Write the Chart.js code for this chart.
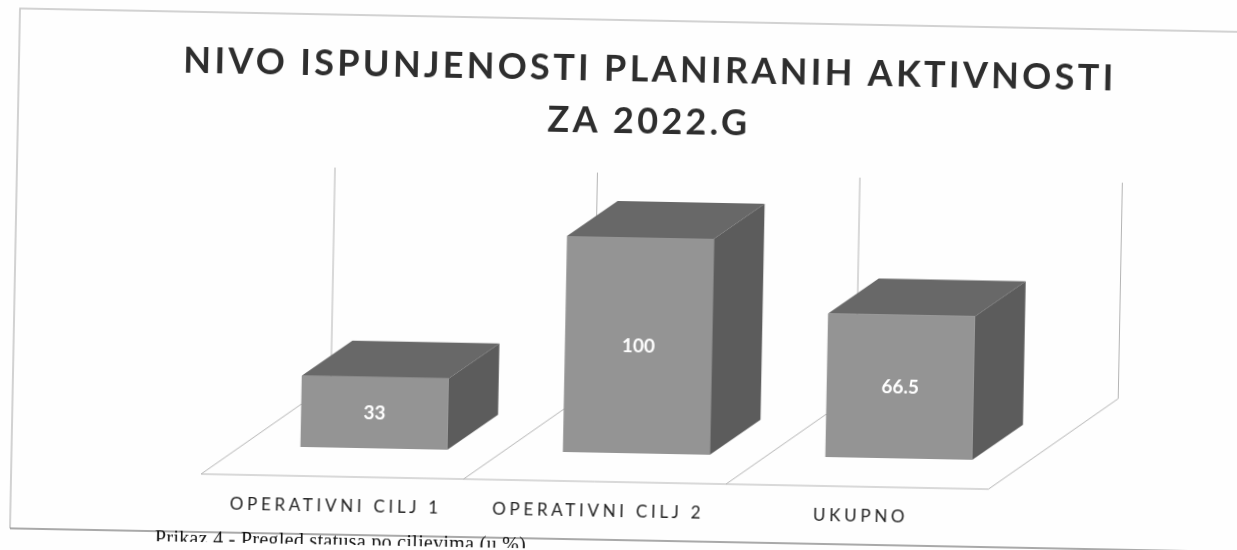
<!DOCTYPE html>
<html><head><meta charset="utf-8">
<style>
html,body{margin:0;padding:0;background:#fefefe;overflow:hidden}
#wrap{position:absolute;left:0;top:0;width:1237px;height:550px;transform:rotate(1.1deg);transform-origin:618px 275px;filter:blur(0.5px)}
canvas{display:block}
</style>
<script src="https://cdn.jsdelivr.net/npm/chart.js@4"></script>
</head><body>
<div id="wrap"><canvas id="c" width="1237" height="550"></canvas></div>
<script>
const categories = ["OPERATIVNI CILJ 1", "OPERATIVNI CILJ 2", "UKUPNO"];
const values = [33, 100, 66.5];
const valueLabels = ["33", "100", "66.5"];
const titleLines = ["NIVO ISPUNJENOSTI PLANIRANIH AKTIVNOSTI", "ZA 2022.G"];
const caption = "Prikaz 4 - Pregled statusa po ciljevima (u %)";

const BAR_D = {dx: 50, dy: -36};
const FLOOR_FRONT = {dx: -41, dy: 29};
const FLOOR_BACK = {dx: 87, dy: -64};

function poly(ctx, pts, fill) {
  ctx.beginPath();
  pts.forEach((p, i) => i ? ctx.lineTo(p[0], p[1]) : ctx.moveTo(p[0], p[1]));
  ctx.closePath();
  ctx.fillStyle = fill;
  ctx.fill();
}
const scene = {
  id: "scene",
  afterUpdate(chart) {
    const s = chart.scales.x;
    if (!s._spaced) {
      const orig = s.drawLabels;
      s.drawLabels = function (area) {
        const ctx = this.ctx;
        ctx.save();
        ctx.letterSpacing = "3.7px";
        orig.call(this, area);
        ctx.restore();
      };
      s._spaced = true;
    }
  },
  beforeDraw(chart) {
    const ctx = chart.ctx;
    ctx.letterSpacing = "3.3px";
    ctx.save();
    ctx.letterSpacing = "0.3px";
    ctx.lineWidth = 1.5;
    ctx.strokeStyle = "#c4c4c4";
    ctx.beginPath();
    ctx.moveTo(15, 540); ctx.lineTo(15, 20); ctx.lineTo(1300, 20);
    ctx.stroke();
    ctx.strokeStyle = "#8c8c8c";
    ctx.beginPath();
    ctx.moveTo(15, 540); ctx.lineTo(1300, 540);
    ctx.stroke();
    ctx.fillStyle = "#111";
    ctx.font = "20px 'Liberation Serif'";
    ctx.textAlign = "left";
    ctx.textBaseline = "alphabetic";
    ctx.fillText(caption, 160, 553);
    ctx.restore();
  },
  beforeDatasetsDraw(chart) {
    const {ctx, chartArea: a, scales: {y}} = chart;
    const n = categories.length, step = (a.right - a.left) / n;
    const y0 = y.getPixelForValue(0), yTop = y.getPixelForValue(100);
    ctx.save();
    ctx.strokeStyle = "#b4b4b4";
    ctx.lineWidth = 1;
    const fy = y0 + FLOOR_FRONT.dy, by = y0 + FLOOR_BACK.dy;
    ctx.beginPath();
    ctx.moveTo(a.left + FLOOR_FRONT.dx, fy);
    ctx.lineTo(a.right + FLOOR_FRONT.dx, fy);
    for (let i = 0; i <= n; i++) {
      const bx = a.left + i * step;
      ctx.moveTo(bx + FLOOR_FRONT.dx, fy);
      ctx.lineTo(bx + FLOOR_BACK.dx, by);
      ctx.lineTo(bx + FLOOR_BACK.dx, yTop + FLOOR_BACK.dy);
    }
    ctx.stroke();
    ctx.restore();
  },
  afterDatasetsDraw(chart) {
    const ctx = chart.ctx;
    const meta = chart.getDatasetMeta(0);
    ctx.save();
    ctx.letterSpacing = "0px";
    meta.data.forEach((b, i) => {
      const l = b.x - b.width / 2, r = b.x + b.width / 2, t = b.y, bot = b.base;
      const dx = BAR_D.dx, dy = BAR_D.dy;
      poly(ctx, [[l, t], [r, t], [r + dx, t + dy], [l + dx, t + dy]], "#686868");
      poly(ctx, [[r, t], [r + dx, t + dy], [r + dx, bot + dy], [r, bot]], "#5c5c5c");
      ctx.fillStyle = "#fff";
      ctx.font = "bold 19px Lato";
      ctx.textAlign = "center";
      ctx.textBaseline = "middle";
      ctx.fillText(valueLabels[i], b.x, (t + bot) / 2 + 1);
    });
    ctx.restore();
  }
};

new Chart(document.getElementById("c"), {
  type: "bar",
  data: {
    labels: categories,
    datasets: [{data: values, backgroundColor: "#949494", borderWidth: 0,
      barPercentage: 0.56, categoryPercentage: 1, yAxisID: "y"}]
  },
  options: {
    responsive: false,
    animation: false,
    layout: {padding: {left: 55, right: 0, top: 0, bottom: 0}},
    plugins: {
      legend: {display: false},
      tooltip: {enabled: false},
      title: {
        display: true,
        text: titleLines,
        color: "#2e2e2e",
        font: {family: "Lato", size: 36, weight: "bold", lineHeight: 1.445},
        padding: {top: 43, bottom: 90}
      }
    },
    scales: {
      x: {
        grid: {display: false, drawTicks: false},
        border: {display: false},
        ticks: {color: "#222", font: {family: "Lato", size: 17}, padding: 48, labelOffset: -37, maxRotation: 0, autoSkip: false},
        afterFit(s) { s.height = 97; }
      },
      y: {
        min: 0, max: 100, position: "left",
        grid: {display: false, drawTicks: false},
        border: {display: false},
        ticks: {display: false},
        afterFit(s) { s.width = 191; }
      },
      y2: {
        min: 0, max: 100, position: "right",
        grid: {display: false, drawTicks: false},
        border: {display: false},
        ticks: {display: false},
        afterFit(s) { s.width = 203.5; }
      }
    }
  },
  plugins: [scene]
});
</script>
</body></html>
